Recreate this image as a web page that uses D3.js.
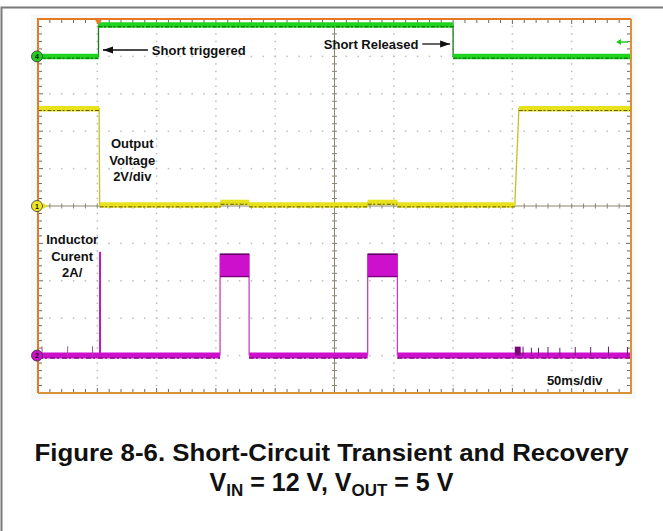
<!DOCTYPE html>
<html><head><meta charset="utf-8">
<script src="https://cdn.jsdelivr.net/npm/d3@7"></script>
<style>
body{margin:0;background:#fff}
svg{display:block}
text{font-family:"Liberation Sans",Arial,Helvetica,sans-serif;font-weight:bold;fill:#111}
</style>
</head><body><svg id="c" width="663" height="531"></svg>
<script>
// ---------------- data ----------------
const timeDomainMs = [0, 500];          // 10 div x 50 ms/div
const divDomain = [-5, 5];              // 10 vertical divisions
const timeLabel = "50ms/div";

// CH4 : short control signal (divisions above its marker)
const ch4Offset = 4;
const shortT = [0, 51, 51, 350, 350, 500];
const shortDiv = [0, 0, 0.84, 0.84, 0, 0];

// CH1 : output voltage (V), 2 V/div
const ch1Offset = 0, ch1Scale = 2;
const voutT = [0, 51.5, 52, 154, 154, 178, 178, 278, 278, 303, 303, 402, 405.5, 500];
const voutV = [5.2, 5.2, 0.05, 0.05, 0.19, 0.19, 0.05, 0.05, 0.19, 0.19, 0.05, 0.05, 5.2, 5.2];

// CH2 : inductor current (A), 2 A/div
const ch2Offset = -4, ch2Scale = 2;
const iBaseStart = [0, 178, 303];
const iBaseEnd = [153.5, 278, 500];
const iPulseStart = [153.5, 278];
const iPulseEnd = [178, 303];
const iPulseTop = [5.45, 5.45];
const iPulseBottom = [4.2, 4.2];
const iSpikeT = [3.4, 25, 46, 52.3, 409, 416, 422, 430, 440, 453, 466, 481, 497];
const iSpikeA = [0.5, 0.5, 0.5, 5.55, 0.48, 0.42, 0.42, 0.46, 0.42, 0.46, 0.46, 0.48, 0.46];
const iBlockT = [402, 407];
const iBlockA = 0.48;

const triggerT = 51;
const annotations = [
  {lines: ["Short triggered"], t: 96, y: 55, anchor: "start"},
  {lines: ["Short Released"], t: 241, y: 49, anchor: "start"},
  {lines: ["Output", "Voltage", "2V/div"], t: 79.5, y: 148, anchor: "middle"},
  {lines: ["Inductor", "Curent", "2A/"], t: 28.8, y: 244, anchor: "middle"}
];
const arrows = [
  {t0: 54.8, t1: 92.7, y: 50, head: "left"},
  {t0: 324, t1: 347.5, y: 44, head: "right"}
];
const captionLine1 = "Figure 8-6. Short-Circuit Transient and Recovery";

// ---------------- layout ----------------
const svg = d3.select("#c");
const X0 = 38, X1 = 631, Y0 = 19, Y1 = 393;
const x = d3.scaleLinear().domain(timeDomainMs).range([X0, X1]);
const yd = d3.scaleLinear().domain(divDomain).range([Y1, Y0]);
const y4 = v => yd(ch4Offset + v);
const y1 = v => yd(ch1Offset + v / ch1Scale);
const y2 = v => yd(ch2Offset + v / ch2Scale);
const divW = (X1 - X0) / 10, divH = (Y1 - Y0) / 10;

// outer frame
svg.append("path").attr("d", `M1.5,531 L1.5,7.5 L663,7.5`).attr("fill", "none")
  .attr("stroke", "#7a7a7a").attr("stroke-width", 2);

// scope screenshot background
svg.append("rect").attr("x", 31).attr("y", 14).attr("width", 605).attr("height", 385).attr("fill", "#f9f9f9");
svg.append("rect").attr("x", X0).attr("y", Y0).attr("width", X1 - X0).attr("height", Y1 - Y0).attr("fill", "#fff");

// grid dots
const grid = svg.append("g").attr("fill", "#bdbdbd");
for (let i = 1; i < 10; i++) {
  if (i === 5) continue;
  const gx = x(i * 50);
  for (let k = 1; k < 50; k++) grid.append("rect").attr("x", gx - 0.75).attr("y", Y0 + k * divH / 5 - 0.75).attr("width", 1.5).attr("height", 1.5);
  const gy = yd(i - 5);
  for (let k = 1; k < 50; k++) grid.append("rect").attr("x", X0 + k * divW / 5 - 0.75).attr("y", gy - 0.75).attr("width", 1.5).attr("height", 1.5);
}
// center cross with ticks
const cc = svg.append("g").attr("stroke", "#8a8670").attr("stroke-width", 1);
cc.append("line").attr("x1", x(250)).attr("x2", x(250)).attr("y1", Y0).attr("y2", Y1);
cc.append("line").attr("x1", X0).attr("x2", X1).attr("y1", yd(0)).attr("y2", yd(0));
for (let k = 1; k < 50; k++) {
  const ty = Y0 + k * divH / 5;
  cc.append("line").attr("x1", x(250) - 2.5).attr("x2", x(250) + 2.5).attr("y1", ty).attr("y2", ty);
  const tx = X0 + k * divW / 5;
  cc.append("line").attr("x1", tx).attr("x2", tx).attr("y1", yd(0) - 2.5).attr("y2", yd(0) + 2.5);
}
// border ticks
const bt = svg.append("g").attr("stroke", "#6a6a6a").attr("stroke-width", 1);
for (let k = 1; k < 50; k++) {
  const tx = X0 + k * divW / 5, ty = Y0 + k * divH / 5;
  const L = k % 5 === 0 ? 5 : 4;
  bt.append("line").attr("x1", tx).attr("x2", tx).attr("y1", Y0).attr("y2", Y0 + L);
  bt.append("line").attr("x1", tx).attr("x2", tx).attr("y1", Y1).attr("y2", Y1 - L);
  bt.append("line").attr("x1", X0).attr("x2", X0 + L).attr("y1", ty).attr("y2", ty);
  bt.append("line").attr("x1", X1).attr("x2", X1 - L).attr("y1", ty).attr("y2", ty);
}

// helper: draw a trace from arrays
function trace(ts, vs, yf, thin, thick, dark) {
  const pts = ts.map((t, i) => [x(t), yf(vs[i])]);
  svg.append("path").attr("d", d3.line()(pts)).attr("fill", "none").attr("stroke", thin).attr("stroke-width", 1.3);
  for (let i = 0; i < pts.length - 1; i++) {
    if (vs[i] === vs[i + 1]) {
      const seg = [pts[i], pts[i + 1]];
      svg.append("path").attr("d", d3.line()(seg)).attr("stroke", thick).attr("stroke-width", 5.5).attr("fill", "none");
      svg.append("path").attr("d", d3.line()(seg.map(p => [p[0], p[1] + 1.8]))).attr("stroke", dark)
        .attr("stroke-width", 1).attr("stroke-dasharray", "4,1.5,2,2").attr("fill", "none");
    }
  }
}
trace(shortT, shortDiv, y4, "#1a7a1a", "#1ed41e", "#0b5a0b");
trace(voutT, voutV, y1, "#c8c020", "#e8e21c", "#5c5800");

// CH2 current
const mag = "#cc10cc";
iBaseStart.forEach((s, i) => {
  svg.append("line").attr("x1", x(s)).attr("x2", x(iBaseEnd[i])).attr("y1", y2(0)).attr("y2", y2(0))
    .attr("stroke", mag).attr("stroke-width", 6);
  svg.append("line").attr("x1", x(s)).attr("x2", x(iBaseEnd[i])).attr("y1", y2(0) + 2.5).attr("y2", y2(0) + 2.5)
    .attr("stroke", "#5a005a").attr("stroke-width", 1).attr("stroke-dasharray", "5,2,2,3");
});
iPulseStart.forEach((s, i) => {
  const e = iPulseEnd[i];
  svg.append("path").attr("d", d3.line()([[x(s), y2(0)], [x(s), y2(iPulseTop[i])]])).attr("stroke", "#c030c0").attr("stroke-width", 1.2);
  svg.append("path").attr("d", d3.line()([[x(e), y2(iPulseTop[i])], [x(e), y2(0)]])).attr("stroke", "#c030c0").attr("stroke-width", 1.2);
  svg.append("rect").attr("x", x(s)).attr("y", y2(iPulseTop[i])).attr("width", x(e) - x(s))
    .attr("height", y2(iPulseBottom[i]) - y2(iPulseTop[i])).attr("fill", mag);
  svg.append("line").attr("x1", x(s)).attr("x2", x(e)).attr("y1", y2(iPulseTop[i]) + 0.5).attr("y2", y2(iPulseTop[i]) + 0.5)
    .attr("stroke", "#4a004a").attr("stroke-width", 1.3);
  svg.append("line").attr("x1", x(s)).attr("x2", x(e)).attr("y1", y2(iPulseBottom[i]) - 0.5).attr("y2", y2(iPulseBottom[i]) - 0.5)
    .attr("stroke", "#7a007a").attr("stroke-width", 1.3);
});
iSpikeT.forEach((t, i) => {
  const big = iSpikeA[i] > 2;
  svg.append("line").attr("x1", x(t)).attr("x2", x(t)).attr("y1", y2(0)).attr("y2", y2(iSpikeA[i]))
    .attr("stroke", big ? "#c018c0" : (t > 250 ? "#6a1a6a" : "#9a5a9a")).attr("stroke-width", big ? 2 : 1);
});
svg.append("rect").attr("x", x(iBlockT[0])).attr("y", y2(iBlockA)).attr("width", x(iBlockT[1]) - x(iBlockT[0]))
  .attr("height", y2(0) - y2(iBlockA)).attr("fill", "#7a0a7a");

// frame
svg.append("path").attr("d", `M${X0},${Y1} L${X0},${Y0} L${X1},${Y0}`).attr("fill", "none").attr("stroke", "#e67a22").attr("stroke-width", 2);
svg.append("path").attr("d", `M${X1},${Y0} L${X1},${Y1} L${X0},${Y1}`).attr("fill", "none").attr("stroke", "#d8923a").attr("stroke-width", 2);

// markers
function marker(cy, fill, label) {
  svg.append("circle").attr("cx", 37).attr("cy", cy).attr("r", 5.5).attr("fill", fill).attr("stroke", "#333").attr("stroke-width", 0.8);
  svg.append("text").attr("x", 37).attr("y", cy + 2.5).attr("text-anchor", "middle").attr("font-size", 7).text(label);
}
svg.append("path").attr("d", `M43,${yd(0) - 3} L48,${yd(0)} L43,${yd(0) + 3} Z`).attr("fill", "#e8e21c");
marker(y4(0), "#22cc22", "4");
marker(y1(0), "#f0e81c", "1");
marker(y2(0), "#cc10cc", "2");
// trigger position and level
const tx0 = x(triggerT);
svg.append("path").attr("d", `M${tx0 - 4},${Y0} L${tx0 + 4},${Y0} L${tx0},${Y0 + 6} Z`).attr("fill", "#e67a22");
svg.append("path").attr("d", `M616,42 L621,39 L621,45 Z`).attr("fill", "#22cc22");
svg.append("line").attr("x1", 620).attr("x2", 628).attr("y1", 42).attr("y2", 42).attr("stroke", "#22cc22").attr("stroke-width", 1.5);

// annotations
annotations.forEach(a => {
  const t = svg.append("text").attr("font-size", 13).attr("text-anchor", a.anchor);
  a.lines.forEach((l, i) => t.append("tspan").attr("x", x(a.t)).attr("y", a.y + i * 16.5).text(l));
});
// arrows
arrows.forEach(a => {
  const xa = x(a.t0), xb = x(a.t1), yy = a.y;
  svg.append("line").attr("x1", xa).attr("x2", xb).attr("y1", yy).attr("y2", yy).attr("stroke", "#111").attr("stroke-width", 1.3);
  const hx = a.head === "left" ? xa : xb, dir = a.head === "left" ? 1 : -1;
  svg.append("path").attr("d", `M${hx},${yy} L${hx + dir * 10},${yy - 3.5} L${hx + dir * 10},${yy + 3.5} Z`).attr("fill", "#111");
});

svg.append("text").attr("x", x(476)).attr("y", 385).attr("text-anchor", "end").attr("font-size", 13).text(timeLabel);

// caption
svg.append("text").attr("x", 331.5).attr("y", 461).attr("text-anchor", "middle").attr("font-size", 24)
  .attr("textLength", 594).attr("lengthAdjust", "spacingAndGlyphs").text(captionLine1);
const c2 = svg.append("text").attr("x", 331.5).attr("y", 491).attr("text-anchor", "middle").attr("font-size", 25);
c2.append("tspan").text("V");
c2.append("tspan").attr("font-size", 17).attr("dy", 5).text("IN");
c2.append("tspan").attr("dy", -5).text(" = 12 V, V");
c2.append("tspan").attr("font-size", 17).attr("dy", 5).text("OUT");
c2.append("tspan").attr("dy", -5).text(" = 5 V");
</script></body></html>
